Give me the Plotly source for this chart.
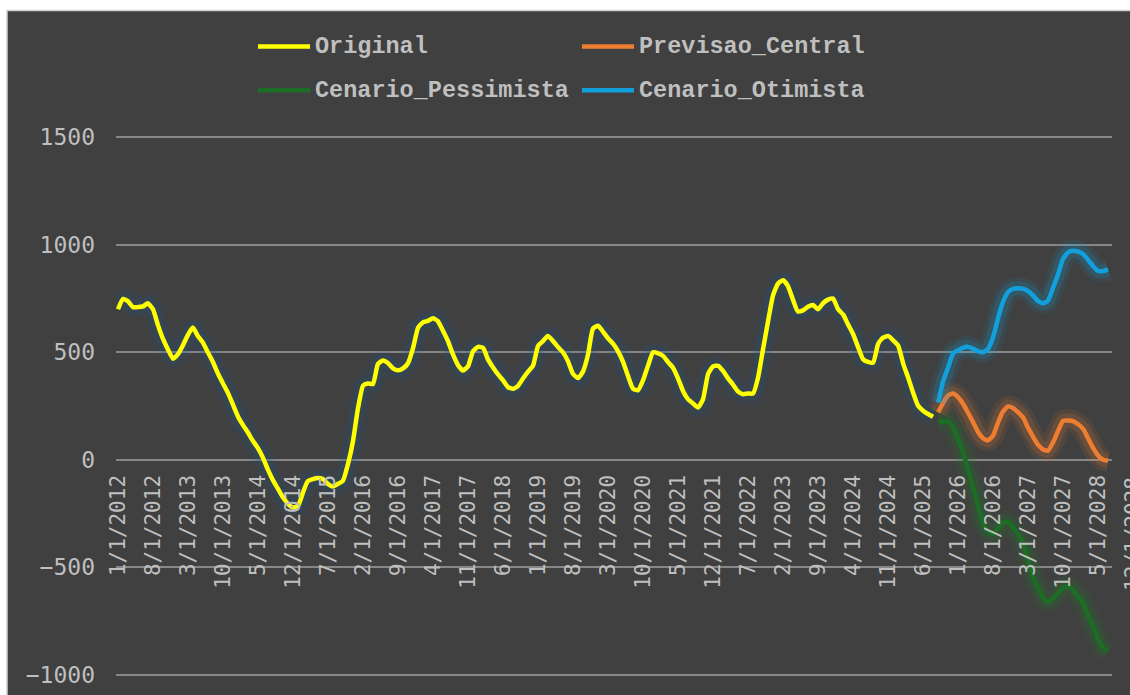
import pandas as pd
import plotly.graph_objects as go

# ---------------- data ----------------
original_start = "2012-01-01"
original = [
    700, 748, 738, 710, 710, 713, 728, 700, 625, 562,
    512, 470, 492, 535, 580, 615, 576, 545, 500, 455,
    400, 355, 310, 256, 200, 160, 128, 88, 55, 10,
    -45, -95, -135, -175, -205, -222, -214, -150, -100, -90,
    -85, -90, -112, -124, -112, -98, -20, 85, 240, 345,
    355, 352, 445, 462, 450, 425, 416, 425, 450, 520,
    615, 640, 646, 658, 645, 600, 553, 490, 440, 415,
    435, 505, 525, 520, 468, 430, 398, 370, 338, 330,
    344, 378, 410, 437, 530, 553, 576, 553, 525, 500,
    460, 400, 380, 410, 490, 610, 623, 595, 565, 540,
    505, 455, 390, 330, 324, 370, 440, 500, 495, 482,
    455, 428, 380, 320, 282, 262, 243, 282, 400, 434,
    437, 412, 380, 350, 318, 305, 308, 308, 383, 514,
    646, 765, 820, 835, 809, 745, 690, 695, 712, 720,
    700, 728, 745, 750, 700, 675, 630, 585, 525, 468,
    455, 452, 540, 568, 576, 555, 530, 445, 385, 313,
    252, 228, 213, 200,
]

forecast_start = "2025-09-01"
previsao_central = [
    220, 265, 300, 308, 290, 258, 220, 175, 130, 100,
    90, 112, 175, 225, 248, 240, 220, 195, 150, 108,
    70, 48, 42, 80, 135, 181, 182, 180, 165, 143,
    100, 55, 20, 0, -5,
]
cenario_pessimista = [
    178, 178, 178, 150, 95, 30, -45, -125, -210, -300,
    -335, -345, -320, -290, -290, -315, -350, -390, -460, -545,
    -595, -640, -660, -645, -622, -595, -590, -605, -640, -665,
    -725, -775, -835, -875, -891,
]
cenario_otimista = [
    266, 365, 430, 495, 510, 522, 525, 517, 505, 500,
    515, 570, 660, 735, 780, 795, 798, 795, 785, 765,
    739, 728, 740, 800, 863, 935, 965, 972, 968, 956,
    930, 900, 878, 878, 885,
]

tick_labels = [
    "1/1/2012", "8/1/2012", "3/1/2013", "10/1/2013", "5/1/2014", "12/1/2014",
    "7/1/2015", "2/1/2016", "9/1/2016", "4/1/2017", "11/1/2017", "6/1/2018",
    "1/1/2019", "8/1/2019", "3/1/2020", "10/1/2020", "5/1/2021", "12/1/2021",
    "7/1/2022", "2/1/2023", "9/1/2023", "4/1/2024", "11/1/2024", "6/1/2025",
    "1/1/2026", "8/1/2026", "3/1/2027", "10/1/2027", "5/1/2028",
]
cut_label = "12/1/2028"

series_names = ["Original", "Previsao_Central", "Cenario_Pessimista", "Cenario_Otimista"]
series_colors = ["#FFFF00", "#ED7D31", "#1B6E24", "#12A0DC"]
glow_colors = ["rgba(25,85,140,{a})", "rgba(237,125,49,{a})",
               "rgba(30,130,40,{a})", "rgba(18,160,220,{a})"]

# ---------------- geometry (page pixels) ----------------
W, H = 1130, 695
Y_TOP_TICK, Y_BOT_TICK = 1500, -1000
PIX_TOP_TICK, PIX_BOT_TICK = 137, 675          # where 1500 and -1000 sit
PAD = 6                                         # keep edge gridlines inside the range
Y_MIN, Y_MAX = Y_BOT_TICK - PAD, Y_TOP_TICK + PAD
k = (PIX_BOT_TICK - PIX_TOP_TICK) / (Y_TOP_TICK - Y_BOT_TICK)
ML = 116
MR = W - 1112
MT = PIX_TOP_TICK - PAD * k
MB = H - (PIX_BOT_TICK + PAD * k)
PW, PH = W - ML - MR, H - MT - MB


def px(x):
    return (x - ML) / PW


def py(y):
    return (H - MB - y) / PH


BG = "#404040"
GRID = "#878787"
TXT = "#BFBFBF"

orig_dates = pd.date_range(original_start, periods=len(original), freq="MS")
fc_dates = pd.date_range(forecast_start, periods=len(previsao_central), freq="MS")
tick_vals = pd.to_datetime(tick_labels, format="%m/%d/%Y")

xs = [orig_dates, fc_dates, fc_dates, fc_dates]
ys = [original, previsao_central, cenario_pessimista, cenario_otimista]

fig = go.Figure()
for name, x, y, col, gcol in zip(series_names, xs, ys, series_colors, glow_colors):
    for w, a in ((22, 0.10), (14, 0.16)):
        fig.add_trace(go.Scatter(
            x=x, y=y, mode="lines", showlegend=False, hoverinfo="skip",
            line=dict(color=gcol.format(a=a), width=w, shape="spline", smoothing=0.5),
        ))
    fig.add_trace(go.Scatter(
        x=x, y=y, mode="lines", name=name, showlegend=False,
        line=dict(color=col, width=4.5, shape="spline", smoothing=0.5),
    ))

# chart area frame
shapes = [dict(type="rect", xref="paper", yref="paper", layer="below",
               x0=px(7), x1=px(W + 40), y0=py(H + 40), y1=py(10),
               fillcolor=BG, line=dict(color="#D0D0D0", width=1.5))]

# custom legend (two rows, two columns)
leg_pos = [(258, 46), (582, 46), (258, 90), (582, 90)]
annotations = []
for (lx, ly), name, col in zip(leg_pos, series_names, series_colors):
    shapes.append(dict(type="line", xref="paper", yref="paper",
                       x0=px(lx), x1=px(lx + 52), y0=py(ly), y1=py(ly),
                       line=dict(color=col, width=4.5)))
    annotations.append(dict(xref="paper", yref="paper", x=px(lx + 55), y=py(ly),
                            xanchor="left", yanchor="middle", showarrow=False,
                            text=name,
                            font=dict(family="Liberation Mono", size=23.5, color=TXT,
                                      weight="bold")))

# the partially visible last date label at the right edge
annotations.append(dict(xref="paper", yref="paper", x=px(1133), y=py(475),
                        xanchor="center", yanchor="top", showarrow=False,
                        textangle=-90, text=cut_label,
                        font=dict(family="DejaVu Sans Mono", size=21, color=TXT)))

fig.update_layout(
    width=W, height=H,
    margin=dict(l=ML, r=MR, t=MT, b=MB, autoexpand=False),
    paper_bgcolor="#FFFFFF",
    plot_bgcolor=BG,
    template="none",
    showlegend=False,
    hovermode=False,
    shapes=shapes,
    annotations=annotations,
    xaxis=dict(
        type="date",
        range=["2011-12-20", "2028-07-25"],
        anchor="free", position=(0 - Y_MIN) / (Y_MAX - Y_MIN),
        tickmode="array", tickvals=tick_vals, ticktext=tick_labels,
        tickangle=-90, ticks="", showgrid=False, showline=False, zeroline=False,
        ticklabelstandoff=10,
        tickfont=dict(family="DejaVu Sans Mono", size=21, color=TXT),
        automargin=False,
    ),
    yaxis=dict(
        range=[Y_MIN, Y_MAX], dtick=500, tick0=0,
        showgrid=True, gridcolor=GRID, gridwidth=2.2,
        zeroline=True, zerolinecolor=GRID, zerolinewidth=2.2,
        showline=False, ticks="",
        ticklabelstandoff=20,
        tickfont=dict(family="DejaVu Sans Mono", size=23, color=TXT),
        automargin=False,
    ),
)

fig.write_html(
    "out.html",
    config={"displayModeBar": False, "staticPlot": True},
    post_script="document.body.style.margin='0';document.body.style.overflow='hidden';",
)
